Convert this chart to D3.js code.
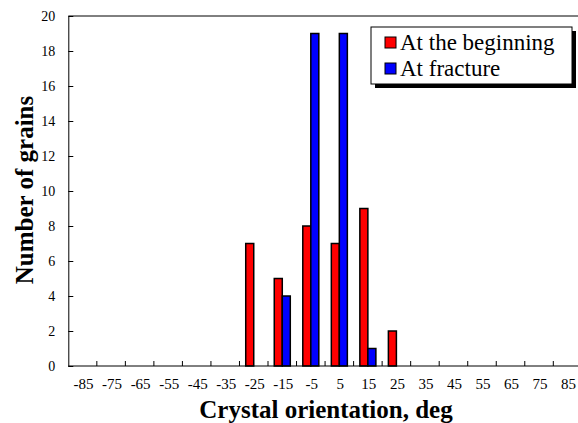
<!DOCTYPE html>
<html>
<head>
<meta charset="utf-8">
<script src="https://d3js.org/d3.v7.min.js"></script>
<style>
  body { margin: 0; background: #fff; }
  text { font-family: "Liberation Serif", "Times New Roman", serif; }
</style>
</head>
<body>
<div id="chart"></div>
<script>
// categories (crystal orientation, deg)
var angles = ["-85","-75","-65","-55","-45","-35","-25","-15","-5","5","15","25","35","45","55","65","75","85"];
var seriesNames = ["At the beginning", "At fracture"];
var seriesColors = ["#ff0000", "#0000ff"];
var beginning = [0,0,0,0,0,0,7,5,8,7,9,2,0,0,0,0,0,0];
var fracture  = [0,0,0,0,0,0,0,4,19,19,1,0,0,0,0,0,0,0];
var yTicks = [0,2,4,6,8,10,12,14,16,18,20];

var W = 578, H = 423;
var plotLeft = 68.3, plotTop = 16, plotBottom = 366;
var step = 28.53;
var plotRight = plotLeft + step * angles.length;

var svg = d3.select("#chart").append("svg")
  .attr("width", W).attr("height", H);

var x0 = d3.scaleBand().domain(angles).range([plotLeft, plotRight]).padding(0);
var x1 = d3.scaleBand().domain([0, 1]).range([0, x0.bandwidth()]).paddingInner(0).paddingOuter(0.78);
var y = d3.scaleLinear().domain([0, 20]).range([plotBottom, plotTop]);

// frame (top border)
svg.append("line").attr("x1", plotLeft).attr("x2", plotRight).attr("y1", plotTop).attr("y2", plotTop)
  .attr("stroke", "#000").attr("stroke-width", 1);

// bars
var data = [beginning, fracture];
data.forEach(function (vals, s) {
  svg.append("g").selectAll("rect")
    .data(vals.map(function (v, i) { return { c: angles[i], v: v }; }).filter(function (d) { return d.v > 0; }))
    .enter().append("rect")
    .attr("x", function (d) { return x0(d.c) + x1(s); })
    .attr("y", function (d) { return y(d.v); })
    .attr("width", x1.bandwidth())
    .attr("height", function (d) { return y(0) - y(d.v); })
    .attr("fill", seriesColors[s])
    .attr("stroke", "#000")
    .attr("stroke-width", 1.5);
});

// y axis
var yAxis = d3.axisLeft(y).tickValues(yTicks).tickSizeInner(-5).tickSizeOuter(0).tickPadding(13);
var gy = svg.append("g").attr("transform", "translate(" + plotLeft + ",0)").call(yAxis);
gy.attr("font-family", null).attr("font-size", null);
gy.select(".domain").attr("stroke", "#000");
gy.selectAll("text").style("font-size", "14px").attr("fill", "#000");

// x axis: labels at band centres, ticks at band boundaries
var gx = svg.append("g");
gx.append("line").attr("x1", plotLeft).attr("x2", plotRight).attr("y1", plotBottom).attr("y2", plotBottom).attr("stroke", "#000");
gx.selectAll(".xt").data(angles.slice(1)).enter().append("line")
  .attr("x1", function (d) { return x0(d); }).attr("x2", function (d) { return x0(d); })
  .attr("y1", plotBottom).attr("y2", plotBottom - 5).attr("stroke", "#000");
gx.selectAll(".xl").data(angles).enter().append("text")
  .attr("x", function (d) { return x0(d) + x0.bandwidth() / 2 + 1; })
  .attr("y", plotBottom + 23)
  .attr("text-anchor", "middle")
  .style("font-size", "15px")
  .text(function (d) { return d; });

// axis titles
svg.append("text").attr("x", 326).attr("y", 418).attr("text-anchor", "middle")
  .style("font-size", "25px").style("font-weight", "bold").text("Crystal orientation, deg");
svg.append("text").attr("transform", "translate(33,190) rotate(-90)").attr("text-anchor", "middle")
  .style("font-size", "25px").style("font-weight", "bold").text("Number of grains");

// legend
var lg = svg.append("g");
lg.append("rect").attr("x", 375).attr("y", 31).attr("width", 201).attr("height", 57).attr("fill", "#000");
lg.append("rect").attr("x", 371).attr("y", 27).attr("width", 201).attr("height", 57)
  .attr("fill", "#fff").attr("stroke", "#000").attr("stroke-width", 1);
seriesNames.forEach(function (n, i) {
  lg.append("rect").attr("x", 385).attr("y", 37 + i * 26).attr("width", 11).attr("height", 11)
    .attr("fill", seriesColors[i]).attr("stroke", "#000").attr("stroke-width", 1);
  lg.append("text").attr("x", 400).attr("y", 50 + i * 26).style("font-size", "23px").text(n);
});
</script>
</body>
</html>
